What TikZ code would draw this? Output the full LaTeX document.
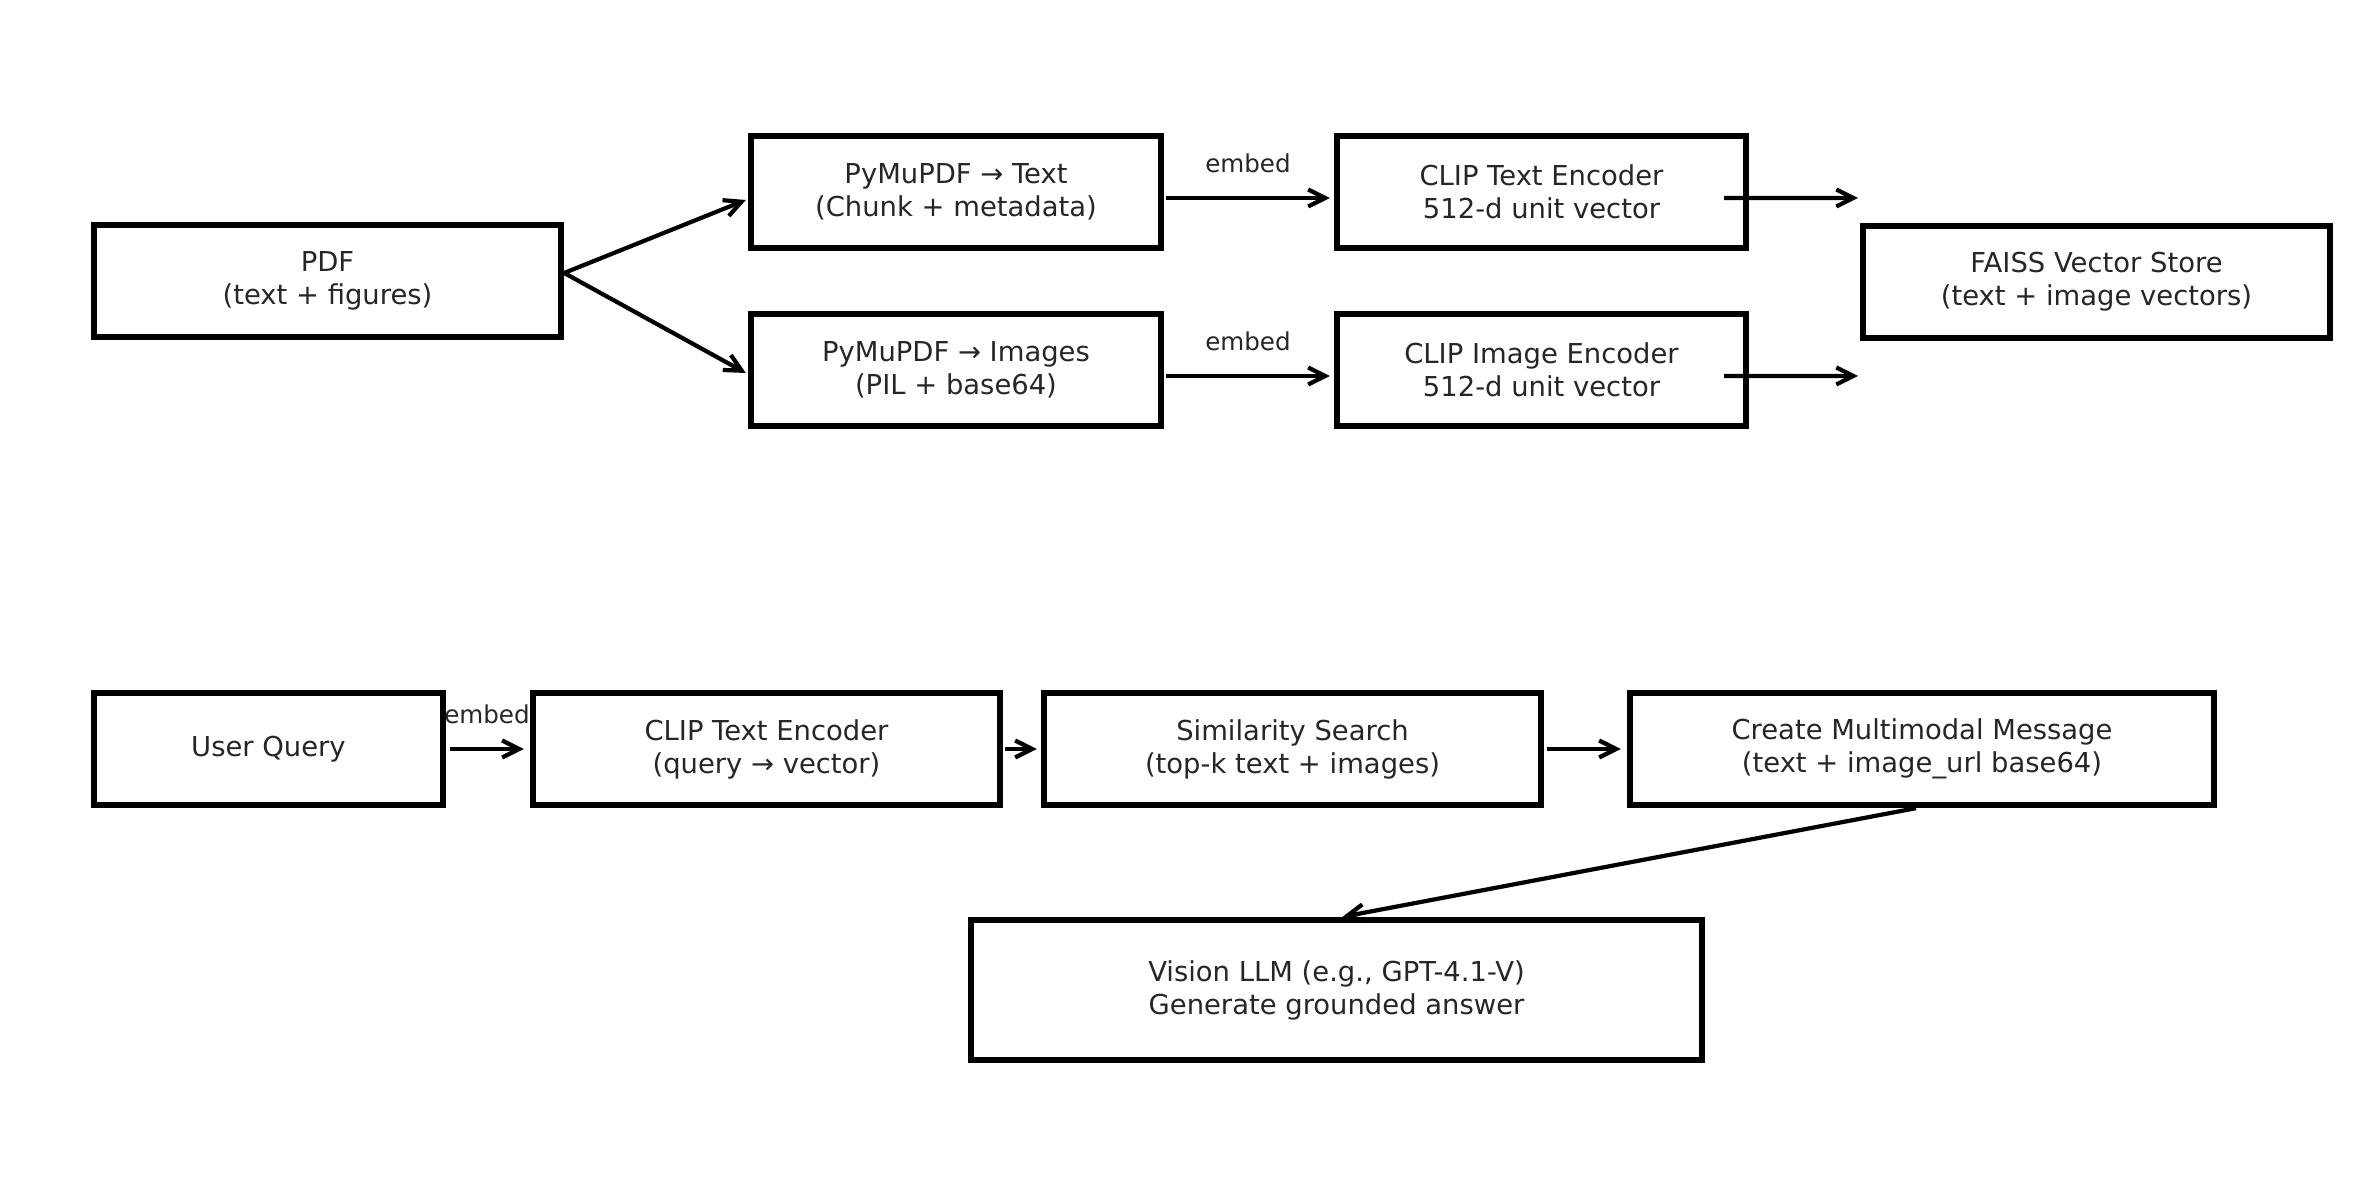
\documentclass[tikz,border=0pt]{standalone}
\usepackage{fontspec}
\setmainfont{DejaVu Sans}
\usepackage{tikz}
\usetikzlibrary{arrows.meta}
\usetikzlibrary{positioning}
\definecolor{labelgray}{HTML}{262626}

\begin{document}
\begin{tikzpicture}[x=0.1mm,y=0.1mm,>={Straight Barb[length=1.7mm,width=1.7mm]},
    box/.style={draw=black,line width=1.8pt,inner sep=0pt,minimum height=11.2mm,align=center,text=labelgray,font=\fontsize{7.8pt}{9.4pt}\selectfont},
    link/.style={->,line width=1.2pt},
    tag/.style={text=labelgray,font=\fontsize{7pt}{8.4pt}\selectfont}]

        \useasboundingbox (0,0) rectangle (2379,1180);

            % Indexing nodes
            \node[box,minimum width=46.7mm] (pdf) at (327.5,899) {PDF\\(text + figures)};
            \node[box,minimum width=41mm] (txt) at (956,988) {PyMuPDF → Text\\(Chunk + metadata)};
            \node[box,minimum width=41mm] (img) at (956,810) {PyMuPDF → Images\\(PIL + base64)};
            \node[box,minimum width=40.9mm] (clipT) at (1541.5,988) {CLIP Text Encoder\\512-d unit vector};
            \node[box,minimum width=40.9mm] (clipI) at (1541.5,810) {CLIP Image Encoder\\512-d unit vector};
            \node[box,minimum width=46.7mm] (faiss) at (2096.5,898) {FAISS Vector Store\\(text + image vectors)};

            % Query nodes
            \node[box,minimum width=34.9mm] (query) at (268.5,431) {User Query};
            \node[box,minimum width=46.7mm] (clipQ) at (766.5,431) {CLIP Text Encoder\\(query → vector)};
            \node[box,minimum width=49.7mm] (sim) at (1292.5,431) {Similarity Search\\(top-k text + images)};
            \node[box,minimum width=58.4mm] (msg) at (1922,431) {Create Multimodal Message\\(text + image\_url base64)};
            \node[box,minimum width=73.1mm,minimum height=14mm] (llm) at (1336.5,190) {Vision LLM (e.g., GPT-4.1-V)\\Generate grounded answer};

            % Free ends of the store arrows
            \coordinate (inT) at (1858,982);
            \coordinate (inI) at (1858,804);

            % Arrows of the indexing part
            \draw[link] ([yshift=0.8mm]pdf.east) -- ([xshift=-0.2mm,yshift=-0.8mm]txt.west);
            \draw[link] ([yshift=0.8mm]pdf.east) -- ([xshift=-0.2mm,yshift=-0.3mm]img.west);
            \draw[link] ([xshift=0.2mm,yshift=-0.6mm]txt.east) -- node[tag,above=1.1mm] {embed} ([xshift=-0.4mm,yshift=-0.6mm]clipT.west);
            \draw[link] ([xshift=0.2mm,yshift=-0.6mm]img.east) -- node[tag,above=1.1mm] {embed} ([xshift=-0.4mm,yshift=-0.6mm]clipI.west);
            \draw[link] ([xshift=-2.5mm,yshift=-0.6mm]clipT.east) -- (inT);
            \draw[link] ([xshift=-2.5mm,yshift=-0.6mm]clipI.east) -- (inI);

            % Arrows of the query part
            \draw[link] ([xshift=0.4mm]query.east) -- node[tag,above=1.1mm] {embed} ([xshift=-0.6mm]clipQ.west);
            \draw[link] ([xshift=0.2mm]clipQ.east) -- ([xshift=-0.4mm]sim.west);
            \draw[link] ([xshift=0.3mm]sim.east) -- ([xshift=-0.6mm]msg.west);
            \draw[link] ([xshift=-0.6mm]msg.south) -- ([xshift=0.6mm]llm.north);

        \end{tikzpicture}
\end{document}
